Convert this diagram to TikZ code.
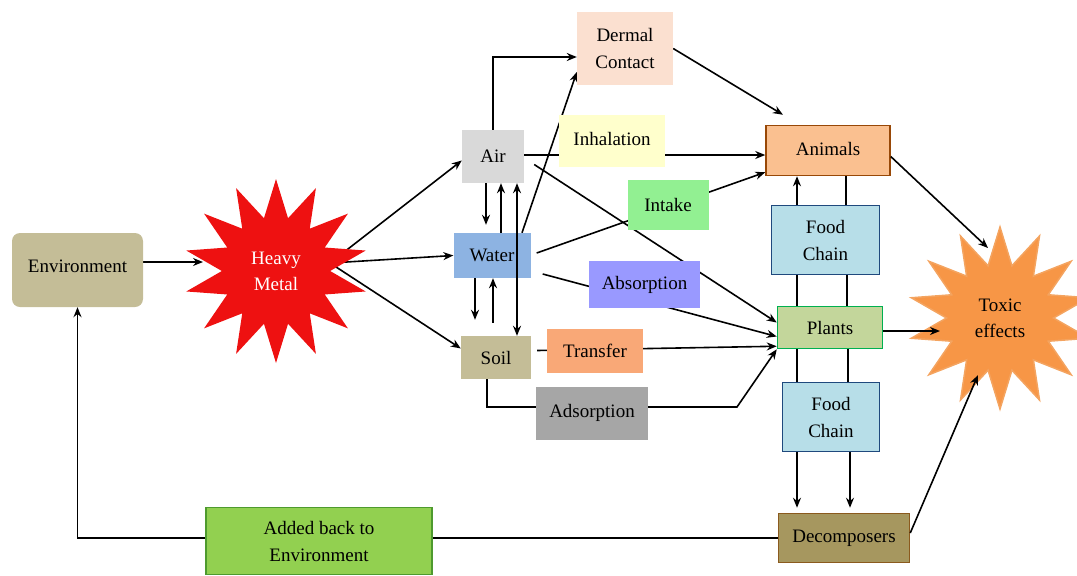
\documentclass[tikz,border=0pt]{standalone}
\usepackage{fontspec}
\setmainfont{Liberation Serif}
\usetikzlibrary{shapes.geometric,arrows.meta,backgrounds}
\definecolor{envc}{HTML}{C4BD97}
\definecolor{airc}{HTML}{D9D9D9}
\definecolor{waterc}{HTML}{8DB3E2}
\definecolor{dermc}{HTML}{FBE0D0}
\definecolor{inhc}{HTML}{FFFFCC}
\definecolor{intc}{HTML}{92F092}
\definecolor{absc}{HTML}{9999FF}
\definecolor{trc}{HTML}{F9A877}
\definecolor{adsc}{HTML}{A6A6A6}
\definecolor{anif}{HTML}{FAC090}
\definecolor{anid}{HTML}{984807}
\definecolor{fcf}{HTML}{B7DEE8}
\definecolor{fcd}{HTML}{1F497D}
\definecolor{plf}{HTML}{C3D69B}
\definecolor{pld}{HTML}{00B050}
\definecolor{decf}{HTML}{A6975F}
\definecolor{decd}{HTML}{8B5A1E}
\definecolor{addf}{HTML}{92D050}
\definecolor{addd}{HTML}{4E9A2E}
\definecolor{hmc}{HTML}{EE1111}
\definecolor{toxf}{HTML}{F79646}
\definecolor{toxd}{HTML}{F4A460}
\begin{document}
\begin{tikzpicture}[x=1pt,y=-1pt,
  bx/.style={rectangle, inner sep=0pt, align=center, font=\fontsize{19}{27}\selectfont},
  bd/.style={bx, line width=1.5pt},
  starnode/.style={star, star points=14, star point ratio=1.7, inner sep=0pt, align=center,
     font=\fontsize{19}{26}\selectfont},
  arr/.style={-{Stealth[length=10pt,width=8pt]}, line width=1.6pt},
  darr/.style={{Stealth[length=10pt,width=8pt]}-{Stealth[length=10pt,width=8pt]}, line width=1.6pt},
  ln/.style={line width=1.6pt}]
\useasboundingbox (0,0) rectangle (1077,576);

% nodes
\node[bx, fill=envc, rounded corners=8pt, minimum width=131pt, minimum height=74pt] (env) at (77.5,270) {\raisebox{8pt}{Environment}};
\node[starnode, fill=hmc, text=white, minimum size=184pt] (hm) at (276,271) {Heavy\\Metal};
\coordinate (hmo) at (330,263);
\node[bx, fill=airc, minimum width=62pt, minimum height=53pt] (air) at (493,156.5) {Air};
\node[bx, fill=waterc, minimum width=77pt, minimum height=45pt] (water) at (492,255.5) {Water};
\node[bx, fill=envc, minimum width=70pt, minimum height=43pt] (soil) at (496,357.5) {Soil};
\node[bx, fill=dermc, minimum width=96pt, minimum height=73pt] (derm) at (625,48.5) {Dermal\\Contact};
\node[bx, fill=inhc, minimum width=106pt, minimum height=52pt] (inh) at (612,141) {\raisebox{4pt}{Inhalation}};
\node[bx, fill=intc, minimum width=81pt, minimum height=50pt] (intk) at (668,205) {Intake};
\node[bx, fill=absc, minimum width=111pt, minimum height=47pt] (abs) at (644.5,284.5) {Absorption};
\node[bx, fill=trc, minimum width=96pt, minimum height=44pt] (tr) at (595,351) {Transfer};
\node[bx, fill=adsc, minimum width=112pt, minimum height=53pt] (ads) at (592,413) {Adsorption};
\node[bd, fill=anif, draw=anid, minimum width=124pt, minimum height=50pt] (ani) at (828,150.5) {\raisebox{4pt}{Animals}};
\node[bd, fill=fcf, draw=fcd, minimum width=108pt, minimum height=69pt] (fc1) at (825.5,240) {Food\\Chain};
\node[bd, fill=plf, draw=pld, minimum width=105pt, minimum height=42pt] (pl) at (830,327.5) {Plants};
\node[bd, fill=fcf, draw=fcd, minimum width=97pt, minimum height=69pt] (fc2) at (831,417) {Food\\Chain};
\node[bd, fill=decf, draw=decd, minimum width=131pt, minimum height=49pt] (dec) at (844,538) {Decomposers};
\node[bd, fill=addf, draw=addd, minimum width=226pt, minimum height=67pt] (add) at (319,541) {Added back to\\Environment};
\node[starnode, fill=toxf, draw=toxd, line width=1.5pt, minimum size=182pt] (tox) at (1000,318) {Toxic\\effects};
\coordinate (adc) at (737,407);

% connectors behind boxes
\begin{scope}[on background layer]
\draw[arr] ([yshift=8pt]env.east) -- (203,262);
\draw[arr] (hmo) -- ([yshift=-4pt]air.west);
\draw[arr] (hmo) -- (water.west);
\draw[arr] (hmo) -- ([yshift=9pt]soil.west);
\draw[arr] (air.north) |- ([yshift=-8.5pt]derm.west);
\draw[arr] ([xshift=30pt]water.north) -- ([yshift=-23.5pt]derm.west);
\draw[arr] (derm.east) -- ([xshift=-45pt,yshift=10pt]ani.north);
\draw[arr] ([yshift=1.5pt]air.east) -- ([yshift=-4.5pt]ani.west);
\draw[arr] ([xshift=10pt,yshift=-8pt]air.east) -- ([yshift=5pt]pl.west);
\draw[arr] ([xshift=6pt,yshift=2.5pt]water.east) -- ([yshift=4pt]ani.south west);
\draw[arr] ([xshift=12pt,yshift=-18.5pt]water.east) -- ([yshift=-9pt]pl.west);
\draw[arr] ([xshift=6pt,yshift=7pt]soil.east) -- ([yshift=3pt]pl.south west);
\draw[arr] ([xshift=-9pt]soil.south) |- (adc) -- (pl.south west);
\draw[arr] (dec.west) -| (env.south);
\end{scope}

% vertical links
\draw[arr] ([xshift=-7pt]air.south) -- ([xshift=-7pt,yshift=8pt]air.south |- water.north);
\draw[arr] ([xshift=8pt]air.south |- water.north) -- ([xshift=8pt]air.south);
\draw[darr] ([xshift=24pt]air.south) -- ([xshift=24pt]air.south |- soil.north);
\draw[arr] ([xshift=-17pt]water.south) -- ([xshift=-17pt,yshift=16pt]water.south |- soil.north);
\draw[arr] ([xshift=1pt,yshift=13pt]water.south |- soil.north) -- ([xshift=1pt]water.south);

\draw[arr] ([xshift=-28.5pt]fc1.north) -- ([xshift=-28.5pt]fc1.north |- ani.south);
\draw[ln] ([xshift=20.5pt]fc1.north) -- ([xshift=20.5pt]fc1.north |- ani.south);
\draw[ln] ([xshift=-28.5pt]fc1.south) -- ([xshift=-28.5pt]fc1.south |- pl.north);
\draw[ln] ([xshift=21.5pt]fc1.south) -- ([xshift=21.5pt]fc1.south |- pl.north);
\draw[ln] ([xshift=-34pt]fc2.north) -- ([xshift=-34pt]fc2.north |- pl.south);
\draw[ln] ([xshift=17pt]fc2.north) -- ([xshift=17pt]fc2.north |- pl.south);
\draw[arr] ([xshift=-34pt]fc2.south) -- ([xshift=-34pt,yshift=5pt]fc2.south |- dec.north);
\draw[arr] ([xshift=19pt]fc2.south) -- ([xshift=19pt,yshift=5pt]fc2.south |- dec.north);

\draw[arr] ([yshift=-6pt]ani.east) -- (988,248);
\draw[arr] ([yshift=-3.5pt]pl.east) -- (940,331);
\draw[arr] ([yshift=5pt]dec.east) -- (978,375);
\end{tikzpicture}
\end{document}
